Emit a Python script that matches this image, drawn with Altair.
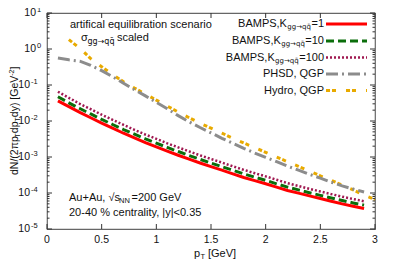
import altair as alt
import pandas as pd

# ---------------- data ----------------
pt = [0.1, 0.2, 0.3, 0.4, 0.5, 0.6, 0.7, 0.8, 0.9, 1.0,
      1.1, 1.2, 1.3, 1.4, 1.5, 1.6, 1.7, 1.8, 1.9, 2.0,
      2.1, 2.2, 2.3, 2.4, 2.5, 2.6, 2.7, 2.8, 2.9]

bamps_k1 = [0.0363, 0.0251, 0.0174, 0.0123, 0.00871, 0.00631, 0.00457, 0.00339, 0.00251, 0.00191,
            0.00145, 0.00112, 8.7e-4, 6.8e-4, 5.4e-4, 4.3e-4, 3.4e-4, 2.7e-4, 2.2e-4, 1.8e-4,
            1.45e-4, 1.17e-4, 9.9e-5, 8.3e-5, 7.0e-5, 5.9e-5, 5.0e-5, 4.3e-5, 3.7e-5]

bamps_k10 = [0.047, 0.032, 0.0222, 0.0157, 0.0111, 0.0080, 0.0058, 0.0043, 0.0032, 0.00243,
             0.00184, 0.00142, 0.00110, 8.6e-4, 6.8e-4, 5.4e-4, 4.3e-4, 3.4e-4, 2.75e-4, 2.25e-4,
             1.8e-4, 1.46e-4, 1.22e-4, 1.02e-4, 8.6e-5, 7.3e-5, 6.2e-5, 5.3e-5, 4.6e-5]

bamps_k100 = [0.065, 0.044, 0.030, 0.0213, 0.0150, 0.0108, 0.0078, 0.0057, 0.0042, 0.0032,
              0.0024, 0.00185, 0.00143, 0.00111, 8.8e-4, 7.0e-4, 5.5e-4, 4.4e-4, 3.55e-4, 2.9e-4,
              2.33e-4, 1.88e-4, 1.57e-4, 1.31e-4, 1.1e-4, 9.3e-5, 7.9e-5, 6.8e-5, 5.9e-5]

phsd = [0.56, 0.50, 0.46, 0.35, 0.25, 0.17, 0.112, 0.074, 0.050, 0.033,
        0.022, 0.0141, 0.0095, 0.0066, 0.0047, 0.0033, 0.0024, 0.00174, 0.00129, 9.8e-4,
        7.4e-4, 5.6e-4, 4.3e-4, 3.3e-4, 2.6e-4, 2.0e-4, 1.58e-4, 1.29e-4, 1.07e-4]

pt_hydro = [0.2, 0.3, 0.4, 0.5, 0.6, 0.7, 0.8, 0.9, 1.0,
            1.1, 1.2, 1.3, 1.4, 1.5, 1.6, 1.7, 1.8, 1.9, 2.0,
            2.1, 2.2, 2.3, 2.4, 2.5, 2.6, 2.7, 2.8, 2.9, 3.0]
hydro = [1.82, 1.05, 0.54, 0.32, 0.195, 0.123, 0.082, 0.056, 0.038,
         0.026, 0.0178, 0.0123, 0.0087, 0.0063, 0.0046, 0.0033, 0.00245, 0.00182, 0.00135,
         0.00100, 7.4e-4, 5.5e-4, 4.1e-4, 3.0e-4, 2.24e-4, 1.66e-4, 1.23e-4, 8.7e-5, 6.6e-5]

x_ticks = [0, 0.5, 1, 1.5, 2, 2.5, 3]
x_tick_labels = ["0", "0.5", "1", "1.5", "2", "2.5", "3"]
y_exponents = [-5, -4, -3, -2, -1, 0, 1]
y_minor_mult = [2, 3, 4, 5, 6, 7, 8, 9]

legend_names = ["BAMPS,K=1", "BAMPS,K=10", "BAMPS,K=100", "PHSD, QGP", "Hydro, QGP"]

# ---------------- style ----------------
FONT = "Liberation Sans"
SUBFONT = "DejaVu Sans"
W, H = 328, 216
RED, GREEN, PURPLE, GRAY, GOLD = "#ff0000", "#0b6e0b", "#a01850", "#8c8c8c", "#e8aa00"

xs = alt.Scale(domain=[0, 3], nice=False, zero=False)
ys = alt.Scale(type="log", domain=[1e-5, 10], nice=False)


def curve(xv, yv, color, dash, width):
    df = pd.DataFrame({"pt": xv, "v": yv})
    mk = dict(color=color, strokeWidth=width, clip=True, strokeCap="butt")
    if dash:
        mk["strokeDash"] = dash
    return alt.Chart(df).mark_line(**mk).encode(
        x=alt.X("pt:Q", scale=xs, axis=None),
        y=alt.Y("v:Q", scale=ys, axis=None),
    )


def txt(s, x, y, size=11, align="left", angle=0, font=FONT):
    kw = dict(align=align, baseline="middle", fontSize=size, font=font, color="#111")
    if angle:
        kw["angle"] = angle
    return alt.Chart(pd.DataFrame({"t": [s]})).mark_text(**kw).encode(
        text="t:N", x=alt.value(x), y=alt.value(y))


def legend_line(y, color, dash, width):
    mk = dict(color=color, strokeWidth=width, strokeCap="butt")
    if dash:
        mk["strokeDash"] = dash
    return alt.Chart(pd.DataFrame({"a": [0]})).mark_rule(**mk).encode(
        x=alt.value(279), x2=alt.value(320), y=alt.value(y))


layers = []

# curves
DASH_G = [8, 4]
DASH_P = [2, 2]
DASH_H = [12, 4, 2, 4]
DASH_O = [4, 2, 4, 10]
layers.append(curve(pt_hydro, hydro, GOLD, DASH_O, 3))
layers.append(curve(pt, phsd, GRAY, DASH_H, 3))
layers.append(curve(pt, bamps_k100, PURPLE, DASH_P, 2.5))
layers.append(curve(pt, bamps_k10, GREEN, DASH_G, 3))
layers.append(curve(pt, bamps_k1, RED, None, 3))

# ticks
xt = pd.DataFrame({"x": x_ticks, "lab": x_tick_labels})
TICK = "#333"
layers.append(alt.Chart(xt).mark_rule(color=TICK).encode(
    x=alt.X("x:Q", scale=xs, axis=None), y=alt.value(H), y2=alt.value(H - 5)))
layers.append(alt.Chart(xt).mark_rule(color=TICK).encode(
    x=alt.X("x:Q", scale=xs, axis=None), y=alt.value(0), y2=alt.value(5)))
layers.append(alt.Chart(xt).mark_text(font=FONT, fontSize=10.5, baseline="middle", color="#111").encode(
    x=alt.X("x:Q", scale=xs, axis=None), y=alt.value(H + 11), text="lab:N"))

ymaj = pd.DataFrame({"v": [10.0 ** e for e in y_exponents], "e": y_exponents})
ymin = pd.DataFrame({"v": [m * 10.0 ** e for e in y_exponents[:-1] for m in y_minor_mult]})
for x0, x1 in [(0, 5), (W, W - 5)]:
    layers.append(alt.Chart(ymaj).mark_rule(color=TICK).encode(
        y=alt.Y("v:Q", scale=ys, axis=None), x=alt.value(x0), x2=alt.value(x1)))
for x0, x1 in [(0, 2.5), (W, W - 2.5)]:
    layers.append(alt.Chart(ymin).mark_rule(color=TICK).encode(
        y=alt.Y("v:Q", scale=ys, axis=None), x=alt.value(x0), x2=alt.value(x1)))

# y tick labels: "10" + superscript exponent
yneg = ymaj[ymaj.e < 0].assign(sup=lambda d: d.e.astype(str))
ypos = ymaj[ymaj.e >= 0].assign(sup=lambda d: d.e.astype(str))
for dfp, xb in [(yneg, -17), (ypos, -11)]:
    layers.append(alt.Chart(dfp).mark_text(font=FONT, fontSize=10.5, align="right", baseline="middle", color="#111").encode(
        y=alt.Y("v:Q", scale=ys, axis=None), x=alt.value(xb), text=alt.value("10")))
    layers.append(alt.Chart(dfp).mark_text(font=FONT, fontSize=7.5, align="left", baseline="middle", dy=-3, color="#111").encode(
        y=alt.Y("v:Q", scale=ys, axis=None), x=alt.value(xb + 1), text="sup:N"))

# axis titles
layers += [
    txt("p", 147, 241), txt("T", 153.5, 244, size=7.5), txt("[GeV]", 161, 241),
]
yx = -32
layers += [
    txt("dN/(2πp", yx, 162, size=10.5, angle=270),
    txt("T", yx + 3, 124.5, size=7, angle=270),
    txt("dp", yx, 120.2, size=10.5, angle=270),
    txt("T", yx + 3, 108.5, size=7, angle=270),
    txt("dy) [GeV", yx, 104.2, size=10.5, angle=270),
    txt("-2", yx - 3, 62.8, size=7, angle=270),
    txt("]", yx, 56.6, size=10.5, angle=270),
]

# annotations
layers += [
    txt("artifical equilibration scenario", 23, 12),
    txt("σ", 34, 25), txt("gg→qq̄", 40.5, 29, size=8, font=SUBFONT), txt("scaled", 70, 25),
    txt("Au+Au, √s", 22, 185), txt("NN", 72, 188, size=7.5), txt("=200 GeV", 84.5, 185),
    txt("20-40 % centrality, |y|<0.35", 22, 200),
]

# legend (labels on the left, samples on the right)
rows_y = [11, 28, 44.5, 61, 77.5]
REND = 277
for y, num in zip(rows_y[:3], ["=1", "=10", "=100"]):
    wnum = 0.584 * 11 + 0.556 * 11 * (len(num) - 1)
    layers.append(txt(num, REND, y, align="right"))
    layers.append(txt("gg→qq̄", REND - wnum - 0.5, y + 3, size=7, align="right", font=SUBFONT))
    layers.append(txt("BAMPS,K", REND - wnum - 24.5, y, align="right"))
layers.append(txt("PHSD, QGP", REND, rows_y[3], align="right"))
layers.append(txt("Hydro, QGP", REND, rows_y[4], align="right"))
layers += [
    legend_line(rows_y[0], RED, None, 3),
    legend_line(rows_y[1], GREEN, DASH_G, 3),
    legend_line(rows_y[2], PURPLE, DASH_P, 2.5),
    legend_line(rows_y[3], GRAY, DASH_H, 3),
    legend_line(rows_y[4], GOLD, DASH_O, 3),
]

chart = alt.layer(*layers).properties(
    width=W, height=H,
    autosize=alt.AutoSizeParams(type="none"),
    padding={"left": 39, "top": 5, "right": 12, "bottom": 40},
).configure_view(stroke="#666", strokeWidth=1.2)

chart.save("out.html", embed_options={"renderer": "svg", "actions": False})
